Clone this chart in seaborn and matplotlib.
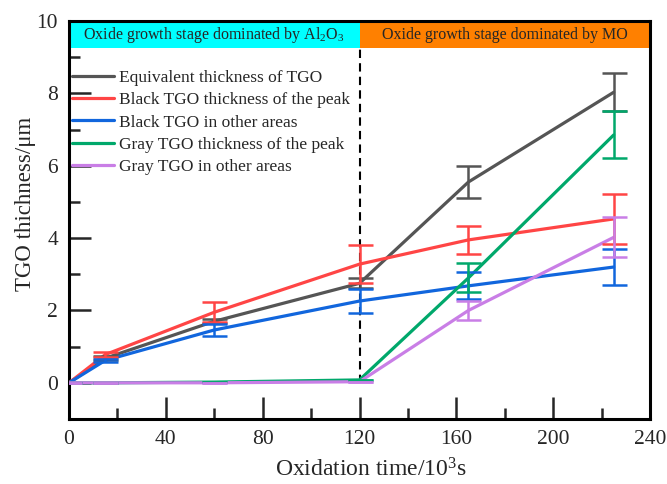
import matplotlib
matplotlib.use("Agg")
import matplotlib.pyplot as plt
import seaborn as sns
import pandas as pd
import numpy as np
from matplotlib.ticker import MultipleLocator
from matplotlib.patches import Rectangle
from matplotlib.lines import Line2D

# ---- data ----
time = [0, 15, 60, 120, 165, 225]
series_names = ["Equivalent thickness of TGO", "Black TGO thickness of the peak",
                "Black TGO in other areas", "Gray TGO thickness of the peak",
                "Gray TGO in other areas"]
equiv = [0, 0.68, 1.70, 2.75, 5.55, 8.03]
equiv_err = [0, 0.05, 0.06, 0.14, 0.43, 0.52]
black_peak = [0, 0.78, 1.95, 3.28, 3.95, 4.53]
black_peak_err = [0, 0.08, 0.28, 0.52, 0.38, 0.70]
black_other = [0, 0.62, 1.46, 2.26, 2.68, 3.20]
black_other_err = [0, 0.05, 0.16, 0.33, 0.37, 0.50]
gray_peak = [0, 0, 0.02, 0.08, 2.90, 6.85]
gray_peak_err = [0, 0, 0, 0, 0.40, 0.65]
gray_other = [0, 0, 0, 0.03, 2.00, 4.02]
gray_other_err = [0, 0, 0, 0, 0.25, 0.55]
colors = ["#555555", "#ff4545", "#1166dd", "#00a86b", "#c97ee6"]
band_labels = ["Oxide growth stage dominated by Al$_2$O$_3$", "Oxide growth stage dominated by MO"]

values = [equiv, black_peak, black_other, gray_peak, gray_other]
errors = [equiv_err, black_peak_err, black_other_err, gray_peak_err, gray_other_err]

df = pd.DataFrame({
    "time": np.tile(time, len(series_names)),
    "thickness": np.concatenate(values),
    "series": np.repeat(series_names, len(time)),
})

sns.set_theme(style="ticks")
plt.rcParams["font.family"] = ["Liberation Serif", "DejaVu Serif"]
plt.rcParams["mathtext.fontset"] = "custom"
plt.rcParams["mathtext.rm"] = "Liberation Serif"
plt.rcParams["mathtext.it"] = "Liberation Serif:italic"

fig = plt.figure(figsize=(6.67, 4.84), dpi=100)
ax = fig.add_axes([69/667, 65/484, 581/667, 398/484])

# bands
ax.add_patch(Rectangle((0, 9.25), 120, 0.75, facecolor="#00ffff", edgecolor="none", zorder=2))
ax.add_patch(Rectangle((120, 9.25), 120, 0.75, facecolor="#ff8000", edgecolor="none", zorder=2))
ax.text(60, 9.6, band_labels[0], ha="center", va="center", fontsize=11.5, zorder=3)
ax.text(180, 9.6, band_labels[1], ha="center", va="center", fontsize=11.5, zorder=3)

# dashed divider
ax.vlines(120, 0, 10, colors="black", linestyles=(0, (4, 2.5)), linewidth=1.5, zorder=1)

palette = dict(zip(series_names, colors))
sns.lineplot(data=df, x="time", y="thickness", hue="series", hue_order=series_names,
             palette=palette, linewidth=2.3, errorbar=None, legend=False, ax=ax, zorder=4)
for name, v, e, c in zip(series_names, values, errors, colors):
    ax.errorbar(time, v, yerr=e, fmt="none", ecolor=c, elinewidth=1.8,
                capsize=9, capthick=1.8, zorder=4)

ax.set_xlim(0, 240)
ax.set_ylim(-1, 10)
ax.xaxis.set_major_locator(MultipleLocator(40))
ax.xaxis.set_minor_locator(MultipleLocator(20))
ax.yaxis.set_major_locator(MultipleLocator(2))
ax.yaxis.set_minor_locator(MultipleLocator(1))
ax.tick_params(which="both", direction="in", width=1.8, top=False, right=False,
               labelsize=15.5, pad=8)
ax.tick_params(which="major", length=16)
ax.tick_params(which="minor", length=8)
for s in ax.spines.values():
    s.set_linewidth(2.2)
    s.set_color("black")

ax.set_xlabel("Oxidation time/10$^3$s", fontsize=17)
ax.xaxis.set_label_coords(0.52, -0.1457)
ax.xaxis.label.set_verticalalignment("baseline")
ax.set_ylabel("TGO thichness/μm", fontsize=16.5)
ax.yaxis.set_label_coords(-0.057, 0.54)

handles = [Line2D([], [], color=c, linewidth=2.3) for c in colors]
ax.legend(handles, series_names, loc="upper left", bbox_to_anchor=(0.005, 0.878),
          frameon=False, fontsize=12.5, handlelength=2.4, handletextpad=0.3,
          labelspacing=0.36, borderpad=0, borderaxespad=0)

fig.savefig("out.png", dpi=100)
